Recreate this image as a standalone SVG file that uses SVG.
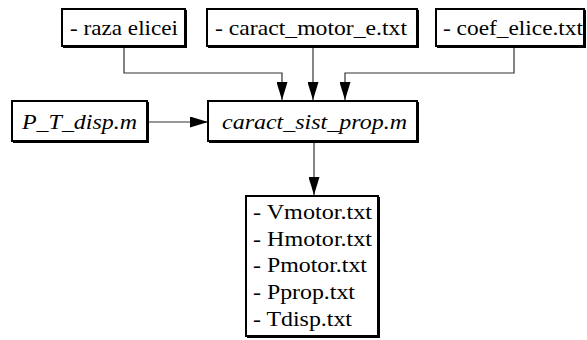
<svg xmlns="http://www.w3.org/2000/svg" width="587" height="340" viewBox="0 0 587 340">
  <style>
    .box { fill: #fff; stroke: #000; stroke-width: 2; }
    .shadow { fill: none; stroke: #000; stroke-width: 2; }
    .t { font-family: "Liberation Serif", "DejaVu Serif", "Times New Roman", serif; font-size: 22px; fill: #000; }
    .i { font-style: italic; }
    .wire { fill: none; stroke: #333; stroke-width: 1.2; }
  </style>
  <defs>
    <marker id="arrow" viewBox="0 0 18 11" refX="18" refY="5.5" markerWidth="18" markerHeight="11" markerUnits="userSpaceOnUse" orient="auto">
      <path d="M0,0 L18,5.5 L0,11 Z" fill="#000"/>
    </marker>
  </defs>
  <rect width="587" height="340" fill="#fff"/>

  <g id="connectors">
    <polyline class="wire" points="124,47 124,73 282,73 282,100" marker-end="url(#arrow)"/>
    <polyline class="wire" points="313,47 313,100" marker-end="url(#arrow)"/>
    <polyline class="wire" points="514,47 514,73 345,73 345,100" marker-end="url(#arrow)"/>
    <polyline class="wire" points="148,122 208,122" marker-end="url(#arrow)"/>
    <polyline class="wire" points="314,143 314,195" marker-end="url(#arrow)"/>
  </g>

  <g id="raza-elicei">
    <rect class="box" x="62" y="9" width="123" height="37"/>
    <path class="shadow" d="M63,47 H186 V10"/>
    <text class="t" x="70" y="35" textLength="108" lengthAdjust="spacingAndGlyphs">- raza elicei</text>
  </g>

  <g id="caract-motor">
    <rect class="box" x="207" y="9" width="210" height="37"/>
    <path class="shadow" d="M208,47 H418 V10"/>
    <text class="t" x="215" y="35" textLength="192" lengthAdjust="spacingAndGlyphs">- caract_motor_e.txt</text>
  </g>

  <g id="coef-elice">
    <rect class="box" x="436" y="9" width="148" height="37"/>
    <path class="shadow" d="M437,47 H585 V10"/>
    <text class="t" x="443" y="35" textLength="140" lengthAdjust="spacingAndGlyphs">- coef_elice.txt</text>
  </g>

  <g id="p-t-disp">
    <rect class="box" x="12" y="101" width="135" height="40"/>
    <path class="shadow" d="M13,142 H148 V102"/>
    <text class="t i" x="22" y="129" textLength="115" lengthAdjust="spacingAndGlyphs">P_T_disp.m</text>
  </g>

  <g id="caract-sist-prop">
    <rect class="box" x="208" y="101" width="209" height="40"/>
    <path class="shadow" d="M209,142 H418 V102"/>
    <text class="t i" x="222" y="129" textLength="185" lengthAdjust="spacingAndGlyphs">caract_sist_prop.m</text>
  </g>

  <g id="outputs">
    <rect class="box" x="246" y="196" width="132" height="140"/>
    <path class="shadow" d="M247,337 H379 V197"/>
    <text class="t" x="253" y="219" textLength="119" lengthAdjust="spacingAndGlyphs">- Vmotor.txt</text>
    <text class="t" x="253" y="246" textLength="119" lengthAdjust="spacingAndGlyphs">- Hmotor.txt</text>
    <text class="t" x="253" y="272" textLength="114" lengthAdjust="spacingAndGlyphs">- Pmotor.txt</text>
    <text class="t" x="253" y="299" textLength="102" lengthAdjust="spacingAndGlyphs">- Pprop.txt</text>
    <text class="t" x="253" y="326" textLength="99" lengthAdjust="spacingAndGlyphs">- Tdisp.txt</text>
  </g>
</svg>
